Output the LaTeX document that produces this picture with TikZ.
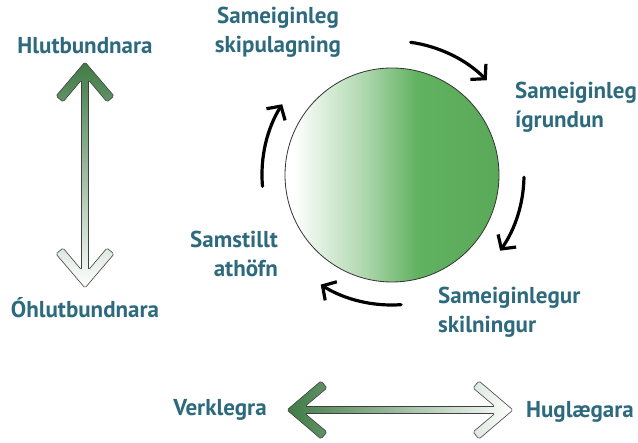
\documentclass[tikz,border=0pt]{standalone}
\usepackage{fontspec}
\setmainfont{PT Sans}
\usetikzlibrary{arrows.meta}
\definecolor{labelblue}{HTML}{2D6A7D}
\definecolor{arrowgreen}{HTML}{3F7B45}
\definecolor{ringgreen}{HTML}{58AD58}
\pgfdeclarehorizontalshading{ringfade}{100bp}{color(0bp)=(white); color(27bp)=(white); color(44bp)=(ringgreen!50); color(56bp)=(ringgreen!95); color(100bp)=(ringgreen!92!black)}
\newcommand{\gradarrow}[2]{
    \begin{scope}[#1]
        \shadedraw[#2, draw=black!75, line width=0.6pt, rounded corners=1.5pt]
            (226,0) -- (192,29) -- (186,22) -- (208,3.5) -- (18,3.5) -- (40,22) -- (34,29) -- (0,0)
            -- (34,-29) -- (40,-22) -- (18,-3.5) -- (208,-3.5) -- (186,-22) -- (192,-29) -- cycle;
    \end{scope}
}

\begin{document}
\begin{tikzpicture}[x=1pt,y=1pt,>=Latex,
    lbl/.style={text=labelblue, inner sep=0pt, font=\bfseries\fontsize{23}{29}\selectfont},
    cyclearrow/.style={line width=3.2pt, line cap=round, -{Straight Barb[length=10pt,width=22pt]}}]
    \useasboundingbox[fill=white] (0,0) rectangle (638,443);

    \node[circle, draw=black!80, line width=0.8pt, minimum size=214pt, inner sep=0pt, shade, shading=ringfade] (ring) at (392,268) {};

    \node[lbl, align=center] (plan) at (278,411) {Sameiginleg\\skipulagning};
    \node[lbl, align=left, anchor=west] (reflect) at (515,335.5) {Sameiginleg\\ígrundun};
    \node[lbl, align=left, anchor=west] (understand) at (438,130.5) {Sameiginlegur\\skilningur};
    \node[lbl, align=right, anchor=east] (action) at (278,189) {Samstillt\\athöfn};

    \node[lbl] (concrete) at (85,397) {Hlutbundnara};
    \node[lbl] (abstract) at (85,135) {Óhlutbundnara};
    \node[lbl] (practical) at (220,33) {Verklegra};
    \node[lbl] (subjective) at (580,31) {Huglægara};

    % cycle round the ring
    \draw[cyclearrow] ([shift={(82:134)}]ring.center) arc[start angle=82, end angle=45, radius=134];
    \draw[cyclearrow] ([shift={(-1:132)}]ring.center) arc[start angle=-1, end angle=-35, radius=132];
    \draw[cyclearrow] ([shift={(-86:130)}]ring.center) arc[start angle=-86, end angle=-122, radius=134];
    \draw[cyclearrow] ([shift={(185:130)}]ring.center) arc[start angle=185, end angle=148, radius=133];

    % the two scales
    \coordinate (abstip) at (85,155);
    \coordinate (practip) at (287,33);
    \gradarrow{shift={(abstip)}, rotate=90}{top color=arrowgreen, middle color=arrowgreen!72, bottom color=white}
    \gradarrow{shift={(practip)}}{left color=arrowgreen, middle color=arrowgreen!75, right color=white}
\end{tikzpicture}
\end{document}
